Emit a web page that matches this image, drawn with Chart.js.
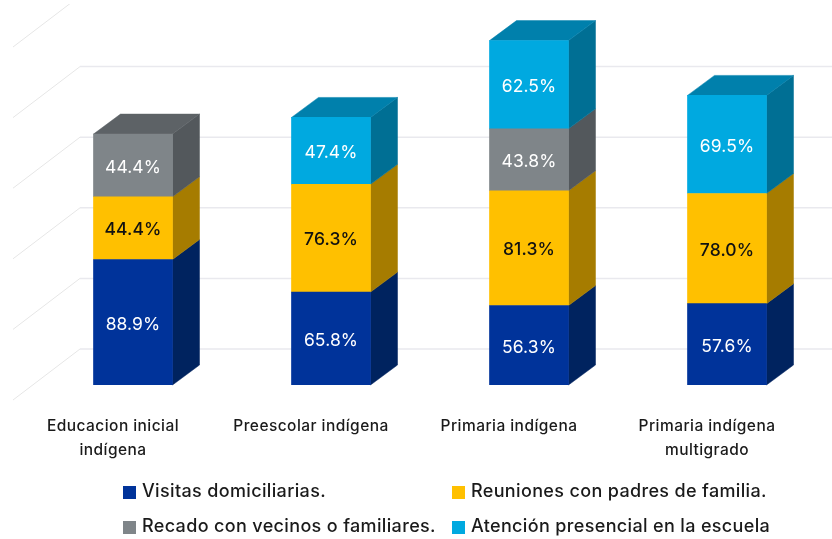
<!DOCTYPE html>
<html>
<head>
<meta charset="utf-8">
<title>Chart</title>
<script src="https://cdn.jsdelivr.net/npm/chart.js@4"></script>
<style>
    html, body { margin: 0; padding: 0; background: #fff; }
    canvas { display: block; }
</style>
</head>
<body>
<canvas id="chart" width="832" height="539"></canvas>
<script>
const categories = [['Educacion inicial', 'indígena'], 'Preescolar indígena', 'Primaria indígena', ['Primaria indígena', 'multigrado']];
const visitas = [88.9, 65.8, 56.3, 57.6];
const reuniones = [44.4, 76.3, 81.3, 78.0];
const recado = [44.4, null, 43.8, null];
const atencion = [null, 47.4, 62.5, 69.5];
const yTicks = [0, 50, 100, 150, 200, 250];

// front, side and top colour per series
const palette = [
    { front: '#00339a', side: '#00235f', top: '#00235f', text: '#ffffff', weight: 400 },
    { front: '#ffc000', side: '#a67c00', top: '#a67c00', text: '#111111', weight: 500 },
    { front: '#7f8589', side: '#53585c', top: '#5d6266', text: '#ffffff', weight: 400 },
    { front: '#00a9e0', side: '#006f94', top: '#0080ac', text: '#ffffff', weight: 400 }
];

const FONT = 'Inter, sans-serif';
const BAR_DX = 27, BAR_DY = 20;     // depth of the bars
const WALL_DX = 67, WALL_DY = 51;   // depth of the floor
const WALL_LIFT = 36;               // back wall sits this far above the bar baseline

function poly(ctx, pts, color) {
    ctx.fillStyle = color;
    ctx.strokeStyle = color;
    ctx.lineWidth = 0.5;
    ctx.beginPath();
    pts.forEach((p, i) => i ? ctx.lineTo(p[0], p[1]) : ctx.moveTo(p[0], p[1]));
    ctx.closePath();
    ctx.fill();
    ctx.stroke();
}

// Back wall grid: horizontal lines plus the diagonals coming to the front
const wallPlugin = {
    id: 'wall',
    beforeDatasetsDraw(chart) {
        const ctx = chart.ctx;
        const y = chart.scales.y;
        const wallX = 80;
        ctx.save();
        ctx.beginPath();
        ctx.rect(0, 4, chart.width, chart.height - 4);
        ctx.clip();
        y.ticks.forEach(t => {
            const py = y.getPixelForValue(t.value) - WALL_LIFT;
            ctx.strokeStyle = '#e9e9ee';
            ctx.lineWidth = 1.5;
            ctx.beginPath();
            ctx.moveTo(wallX, py);
            ctx.lineTo(chart.width, py);
            ctx.stroke();
            ctx.strokeStyle = '#e6e6e6';
            ctx.lineWidth = 1;
            ctx.beginPath();
            ctx.moveTo(wallX - WALL_DX, py + WALL_DY);
            ctx.lineTo(wallX, py);
            ctx.stroke();
        });
        ctx.restore();
    }
};

// Side and top faces of every bar, taken from the bar elements
const depthPlugin = {
    id: 'depth',
    beforeDatasetsDraw(chart) {
        const ctx = chart.ctx;
        const metas = chart.getSortedVisibleDatasetMetas();
        ctx.save();
        categories.forEach((c, j) => {
            let last = null;
            metas.forEach(meta => {
                const value = chart.data.datasets[meta.index].data[j];
                if (value == null) return;
                const bar = meta.data[j];
                const right = bar.x + bar.width / 2;
                const col = palette[meta.index];
                poly(ctx, [[right, bar.base], [right + BAR_DX, bar.base - BAR_DY], [right + BAR_DX, bar.y - BAR_DY], [right, bar.y]], col.side);
                last = { bar, col };
            });
            if (last) {
                const b = last.bar;
                const left = b.x - b.width / 2, right = b.x + b.width / 2;
                poly(ctx, [[left, b.y], [right, b.y], [right + BAR_DX, b.y - BAR_DY], [left + BAR_DX, b.y - BAR_DY]], last.col.top);
            }
        });
        ctx.restore();
    }
};

// Percentages in the middle of each segment
const labelPlugin = {
    id: 'segmentLabels',
    afterDatasetsDraw(chart) {
        const ctx = chart.ctx;
        ctx.save();
        ctx.letterSpacing = '0.1px';
        ctx.textAlign = 'center';
        ctx.textBaseline = 'middle';
        chart.getSortedVisibleDatasetMetas().forEach(meta => {
            const data = chart.data.datasets[meta.index].data;
            meta.data.forEach((bar, j) => {
                if (data[j] == null) return;
                ctx.font = palette[meta.index].weight + ' 17.5px ' + FONT;
                ctx.fillStyle = palette[meta.index].text;
                ctx.fillText(data[j].toFixed(1) + '%', bar.x, (bar.y + bar.base) / 2 + 2);
            });
        });
        ctx.restore();
    }
};

// Two column legend under the chart
const legendPlugin = {
    id: 'gridLegend',
    afterDraw(chart) {
        const ctx = chart.ctx;
        const cols = [123, 452];
        const rows = [492, 527];
        ctx.save();
        ctx.font = '500 18px ' + FONT;
        ctx.letterSpacing = '0.35px';
        ctx.textBaseline = 'middle';
        chart.data.datasets.forEach((ds, i) => {
            const x = cols[i % 2];
            const y = rows[i >> 1];
            ctx.fillStyle = ds.backgroundColor;
            ctx.fillRect(x, y - 6, 13, 13);
            ctx.fillStyle = '#1a1a1a';
            ctx.fillText(ds.label, x + 19, y);
        });
        ctx.restore();
    }
};

// Tick labels need a little tracking, Chart.js has no option for it
const trackingPlugin = {
    id: 'tracking',
    beforeDraw(chart) { chart.ctx.letterSpacing = '0.45px'; }
};

const seriesLabels = ['Visitas domiciliarias.', 'Reuniones con padres de familia.', 'Recado con vecinos o familiares.', 'Atención presencial en la escuela'];
const seriesValues = [visitas, reuniones, recado, atencion];

new Chart(document.getElementById('chart').getContext('2d'), {
    type: 'bar',
    data: {
        labels: categories,
        datasets: seriesValues.map((values, i) => ({
            label: seriesLabels[i],
            data: values,
            backgroundColor: palette[i].front,
            barThickness: 79
        }))
    },
    options: {
        responsive: false,
        animation: false,
        layout: { padding: { left: 34, right: 6, top: 32, bottom: 60 } },
        plugins: { legend: { display: false }, tooltip: { enabled: false } },
        scales: {
            x: {
                stacked: true,
                grid: { display: false },
                border: { display: false },
                afterFit: s => { s.height = 94; },
                ticks: {
                    autoSkip: false,
                    maxRotation: 0,
                    labelOffset: -20,
                    padding: 21,
                    color: '#1a1a1a',
                    font: { family: FONT, size: 15.5, weight: '500', lineHeight: 1.55 }
                }
            },
            y: {
                stacked: true,
                display: false,
                min: 0,
                max: 250,
                afterBuildTicks: s => { s.ticks = yTicks.map(v => ({ value: v })); }
            }
        }
    },
    plugins: [trackingPlugin, wallPlugin, depthPlugin, labelPlugin, legendPlugin]
});
</script>
</body>
</html>
